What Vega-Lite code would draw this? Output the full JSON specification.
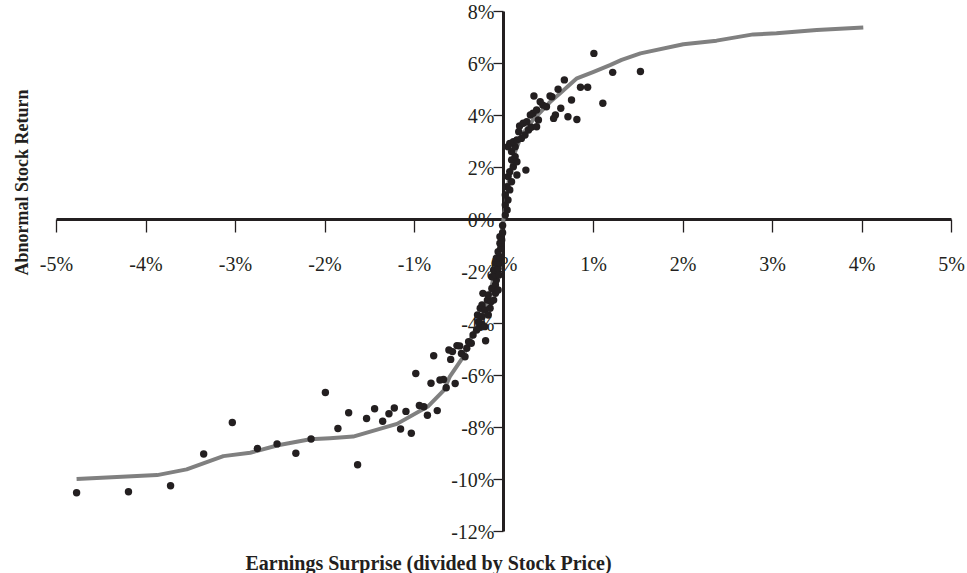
{
  "$schema": "https://vega.github.io/schema/vega-lite/v6.json",
  "width": 895,
  "height": 520,
  "autosize": {"type": "none"},
  "padding": {"left": 56, "top": 11, "right": 16, "bottom": 42},
  "background": "white",
  "config": {
    "view": {"stroke": null},
    "axis": {
      "grid": false,
      "domainColor": "#231f20",
      "domainWidth": 3,
      "tickColor": "#231f20",
      "tickWidth": 1.3,
      "labelColor": "#231f20",
      "labelFont": "Liberation Serif",
      "labelFontSize": 20,
      "titleFont": "Liberation Serif",
      "titleFontWeight": "bold",
      "titleColor": "#231f20",
      "labelOverlap": false,
      "labelFlush": false,
      "labelBound": false,
      "zindex": 0
    }
  },
  "datasets": {
    "curve": [
      {"x": -4.77, "y": -10.0}, {"x": -3.87, "y": -9.85}, {"x": -3.54, "y": -9.63},
      {"x": -3.13, "y": -9.12}, {"x": -2.83, "y": -8.99}, {"x": -2.52, "y": -8.7},
      {"x": -2.16, "y": -8.47}, {"x": -1.94, "y": -8.43}, {"x": -1.68, "y": -8.37},
      {"x": -1.19, "y": -7.88}, {"x": -0.84, "y": -7.2}, {"x": -0.67, "y": -6.6},
      {"x": -0.6, "y": -6.06}, {"x": -0.45, "y": -5.3}, {"x": -0.41, "y": -4.91},
      {"x": -0.26, "y": -3.88}, {"x": -0.15, "y": -2.85}, {"x": -0.076, "y": -1.69},
      {"x": -0.02, "y": -0.54}, {"x": 0, "y": 0}, {"x": 0.02, "y": 0.5},
      {"x": 0.06, "y": 1.5}, {"x": 0.12, "y": 2.5}, {"x": 0.2, "y": 3.2},
      {"x": 0.33, "y": 3.81}, {"x": 0.52, "y": 4.5}, {"x": 0.63, "y": 4.83},
      {"x": 0.82, "y": 5.41}, {"x": 1.0, "y": 5.65}, {"x": 1.19, "y": 5.92},
      {"x": 1.32, "y": 6.12}, {"x": 1.53, "y": 6.37}, {"x": 2.01, "y": 6.72},
      {"x": 2.38, "y": 6.86}, {"x": 2.79, "y": 7.1}, {"x": 3.05, "y": 7.14},
      {"x": 3.5, "y": 7.27}, {"x": 4.02, "y": 7.37}
    ],
    "points": [
      {"x": -4.77, "y": -10.53}, {"x": -4.19, "y": -10.49}, {"x": -3.72, "y": -10.26},
      {"x": -3.35, "y": -9.04}, {"x": -3.03, "y": -7.83}, {"x": -2.75, "y": -8.83},
      {"x": -2.53, "y": -8.65}, {"x": -2.32, "y": -9.01}, {"x": -2.15, "y": -8.46},
      {"x": -1.99, "y": -6.67}, {"x": -1.85, "y": -8.06}, {"x": -1.73, "y": -7.45},
      {"x": -1.63, "y": -9.45}, {"x": -1.53, "y": -7.67}, {"x": -1.44, "y": -7.3},
      {"x": -1.35, "y": -7.78}, {"x": -1.28, "y": -7.49}, {"x": -1.22, "y": -7.27},
      {"x": -1.15, "y": -8.08}, {"x": -1.09, "y": -7.4}, {"x": -1.03, "y": -8.24},
      {"x": -0.98, "y": -5.94}, {"x": -0.94, "y": -7.17}, {"x": -0.89, "y": -7.22},
      {"x": -0.85, "y": -7.55}, {"x": -0.81, "y": -6.32}, {"x": -0.78, "y": -5.26},
      {"x": -0.74, "y": -7.37}, {"x": -0.71, "y": -6.19}, {"x": -0.67, "y": -6.17},
      {"x": -0.64, "y": -6.49}, {"x": -0.61, "y": -5.04}, {"x": -0.59, "y": -5.4},
      {"x": -0.57, "y": -5.1}, {"x": -0.54, "y": -6.33}, {"x": -0.52, "y": -4.87},
      {"x": -0.49, "y": -4.88}, {"x": -0.47, "y": -5.17}, {"x": -0.43, "y": -5.3},
      {"x": -0.41, "y": -4.97}, {"x": -0.39, "y": -4.72}, {"x": -0.36, "y": -4.78},
      {"x": -0.34, "y": -4.46}, {"x": -0.3, "y": -4.27}, {"x": -0.27, "y": -4.17},
      {"x": -0.24, "y": -4.05}, {"x": -0.2, "y": -4.68}, {"x": -0.21, "y": -4.14},
      {"x": -0.28, "y": -3.95}, {"x": -0.24, "y": -3.76}, {"x": -0.29, "y": -3.69},
      {"x": -0.26, "y": -3.43}, {"x": -0.24, "y": -3.31}, {"x": -0.21, "y": -3.5},
      {"x": -0.17, "y": -3.69}, {"x": -0.15, "y": -3.43}, {"x": -0.18, "y": -3.12},
      {"x": -0.14, "y": -3.18}, {"x": -0.23, "y": -2.86}, {"x": -0.17, "y": -2.92},
      {"x": -0.11, "y": -3.12}, {"x": -0.09, "y": -2.86}, {"x": -0.13, "y": -2.67},
      {"x": -0.09, "y": -2.54}, {"x": -0.06, "y": -2.73}, {"x": -0.08, "y": -2.35},
      {"x": -0.13, "y": -2.22}, {"x": -0.09, "y": -2.15}, {"x": -0.05, "y": -2.15},
      {"x": -0.11, "y": -1.96}, {"x": -0.06, "y": -1.9}, {"x": -0.09, "y": -1.7},
      {"x": -0.04, "y": -1.7}, {"x": -0.08, "y": -1.51}, {"x": -0.04, "y": -1.45},
      {"x": -0.06, "y": -1.26}, {"x": -0.03, "y": -1.13}, {"x": -0.04, "y": -0.93},
      {"x": -0.02, "y": -0.81}, {"x": -0.04, "y": -0.68}, {"x": -0.01, "y": -0.53},
      {"x": -0.01, "y": -0.25},
      {"x": 0.02, "y": 0.15}, {"x": 0.04, "y": 0.35}, {"x": 0.02, "y": 0.54},
      {"x": 0.05, "y": 0.73}, {"x": 0.02, "y": 0.92}, {"x": 0.07, "y": 1.12},
      {"x": 0.04, "y": 1.24}, {"x": 0.09, "y": 1.43}, {"x": 0.05, "y": 1.63},
      {"x": 0.15, "y": 1.69}, {"x": 0.07, "y": 1.82}, {"x": 0.11, "y": 2.01},
      {"x": 0.25, "y": 1.88}, {"x": 0.15, "y": 2.2}, {"x": 0.09, "y": 2.27},
      {"x": 0.13, "y": 2.4}, {"x": 0.09, "y": 2.59}, {"x": 0.13, "y": 2.78},
      {"x": 0.05, "y": 2.78}, {"x": 0.07, "y": 2.91}, {"x": 0.11, "y": 2.97},
      {"x": 0.15, "y": 3.04}, {"x": 0.2, "y": 3.1}, {"x": 0.24, "y": 3.23},
      {"x": 0.17, "y": 3.36}, {"x": 0.18, "y": 3.58}, {"x": 0.28, "y": 3.42},
      {"x": 0.31, "y": 3.53}, {"x": 0.37, "y": 3.55}, {"x": 0.22, "y": 3.68},
      {"x": 0.26, "y": 3.74}, {"x": 0.39, "y": 3.81}, {"x": 0.3, "y": 4.0},
      {"x": 0.33, "y": 4.07}, {"x": 0.37, "y": 4.19}, {"x": 0.48, "y": 4.32},
      {"x": 0.44, "y": 4.38}, {"x": 0.41, "y": 4.51}, {"x": 0.34, "y": 4.73},
      {"x": 0.52, "y": 4.73}, {"x": 0.54, "y": 4.7}, {"x": 0.61, "y": 4.99},
      {"x": 0.68, "y": 5.35}, {"x": 0.58, "y": 4.0}, {"x": 0.56, "y": 3.87},
      {"x": 0.64, "y": 4.26}, {"x": 0.72, "y": 3.93}, {"x": 0.82, "y": 3.83},
      {"x": 0.76, "y": 4.58}, {"x": 0.86, "y": 5.07}, {"x": 0.94, "y": 5.07},
      {"x": 1.01, "y": 6.37}, {"x": 1.11, "y": 4.45}, {"x": 1.22, "y": 5.64},
      {"x": 1.53, "y": 5.67}
    ]
  },
  "layer": [
    {
      "data": {"name": "curve"},
      "mark": {"type": "line", "color": "#808080", "strokeWidth": 4, "interpolate": "linear", "strokeJoin": "round"},
      "encoding": {
        "x": {
          "field": "x", "type": "quantitative",
          "scale": {"domain": [-5, 5], "nice": false, "zero": false},
          "axis": {
            "values": [-5, -4, -3, -2, -1, 0, 1, 2, 3, 4, 5],
            "labelExpr": "datum.value + '%'",
            "offset": -312,
            "tickSize": 13,
            "labelPadding": 38,
            "labelBaseline": "alphabetic",
            "title": "Earnings Surprise (divided by Stock Price)",
            "titleFontSize": 20,
            "titleX": 372,
            "titleY": 350,
            "titleAlign": "center",
            "titleBaseline": "alphabetic"
          }
        },
        "y": {
          "field": "y", "type": "quantitative",
          "scale": {"domain": [-12, 8], "nice": false, "zero": false},
          "axis": {
            "values": [-12, -10, -8, -6, -4, -2, 0, 2, 4, 6, 8],
            "labelExpr": "datum.value + '%'",
            "offset": -447,
            "tickSize": 10,
            "labelPadding": -1,
            "labelBaseline": "middle",
            "labelOffset": 1,
            "title": "Abnormal Stock Return",
            "titleFontSize": 18,
            "titleAngle": -90,
            "titleX": -476,
            "titleY": 171,
            "titleAlign": "center",
            "titleBaseline": "alphabetic"
          }
        }
      }
    },
    {
      "data": {"name": "points"},
      "mark": {"type": "circle", "color": "#231f20", "opacity": 1, "size": 55},
      "encoding": {
        "x": {"field": "x", "type": "quantitative"},
        "y": {"field": "y", "type": "quantitative"}
      }
    }
  ]
}
